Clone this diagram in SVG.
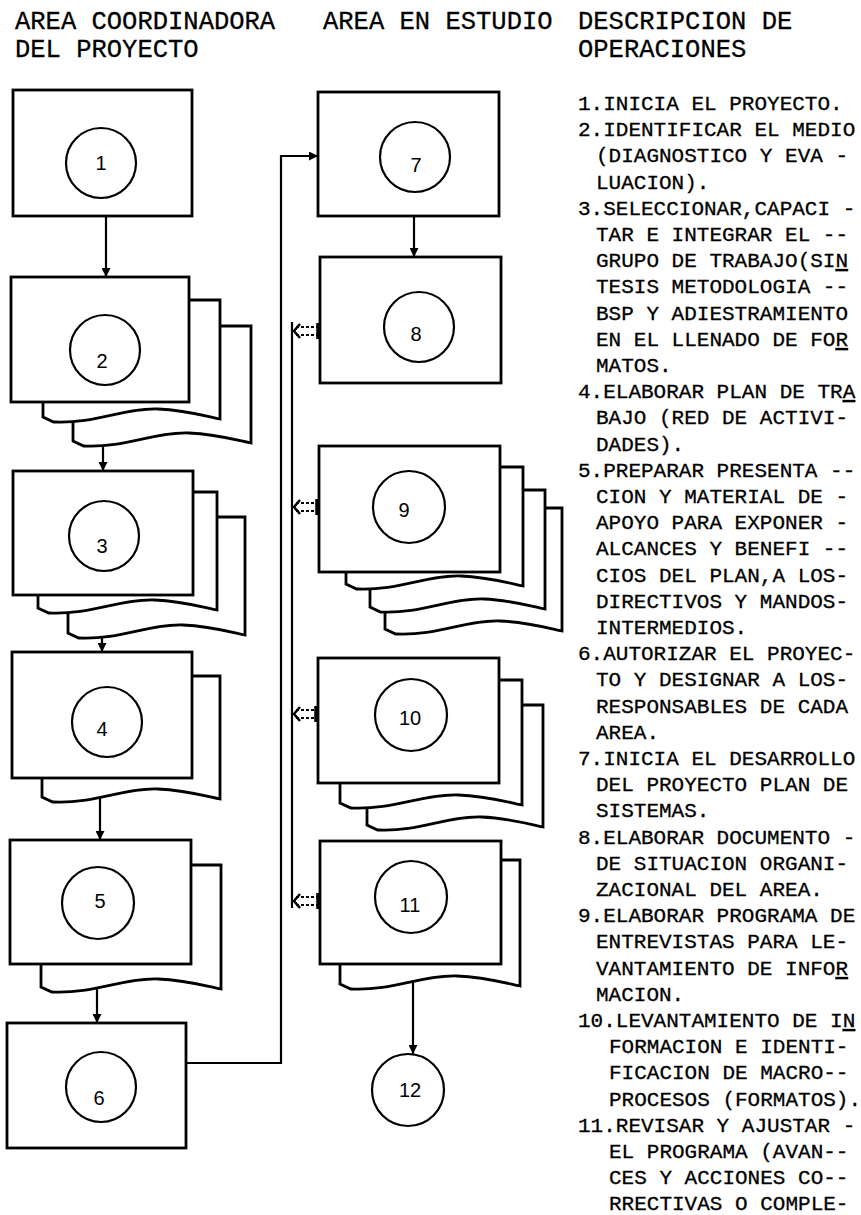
<svg xmlns="http://www.w3.org/2000/svg" width="861" height="1215" viewBox="0 0 861 1215">
<style>
.box{fill:#fff;stroke:#000;stroke-width:2.8;stroke-linejoin:miter}
.circ{fill:none;stroke:#000;stroke-width:2.2}
.num{font-family:"Liberation Sans","DejaVu Sans",sans-serif;font-size:20px;text-anchor:middle;fill:#000}
.conn{fill:none;stroke:#000;stroke-width:2.2}
.dash{fill:none;stroke:#000;stroke-width:2;stroke-dasharray:3 2}
.bar{stroke:#000;stroke-width:3.5}
.hdr{font-family:"Liberation Mono","DejaVu Sans Mono",monospace;font-size:25.5px;fill:#000;stroke:#000;stroke-width:0.3}
.desc{font-family:"Liberation Mono","DejaVu Sans Mono",monospace;font-size:21px;fill:#000;stroke:#000;stroke-width:0.3}
</style>
<defs>
<marker id="ah" viewBox="0 0 10 10" refX="10" refY="5" markerWidth="9" markerHeight="9" markerUnits="userSpaceOnUse" orient="auto"><path d="M0,0 L10,5 L0,10 z" fill="#000"/></marker>
</defs>

<g id="headers">
<text class="hdr" x="15" y="29">AREA COORDINADORA</text>
<text class="hdr" x="15" y="57">DEL PROYECTO</text>
<text class="hdr" x="323" y="29">AREA EN ESTUDIO</text>
<text class="hdr" x="578" y="29">DESCRIPCION DE</text>
<text class="hdr" x="578" y="57">OPERACIONES</text>
</g>

<g id="connectors">
<line class="conn" x1="106" y1="216" x2="106" y2="277" marker-end="url(#ah)"/>
<line class="conn" x1="103" y1="445" x2="103" y2="471" marker-end="url(#ah)"/>
<line class="conn" x1="102" y1="637" x2="102" y2="652" marker-end="url(#ah)"/>
<line class="conn" x1="100" y1="798" x2="100" y2="840" marker-end="url(#ah)"/>
<line class="conn" x1="97" y1="988" x2="97" y2="1023" marker-end="url(#ah)"/>
<polyline class="conn" points="186,1063 281,1063 281,156 318,156" marker-end="url(#ah)"/>
<line class="conn" x1="414" y1="216" x2="414" y2="257" marker-end="url(#ah)"/>
<line class="conn" x1="413" y1="981" x2="413" y2="1054" marker-end="url(#ah)"/>
<line class="conn" x1="292" y1="322" x2="292" y2="908"/>
<g id="link8">
<line class="dash" x1="296" y1="327" x2="317" y2="327"/><line class="dash" x1="296" y1="335" x2="317" y2="335"/>
<path d="M300,324 L294,331 L300,338" fill="none" stroke="#000" stroke-width="2.5"/>
<line class="bar" x1="318" y1="323" x2="318" y2="339"/>
</g>
<g id="link9">
<line class="dash" x1="296" y1="503" x2="317" y2="503"/><line class="dash" x1="296" y1="511" x2="317" y2="511"/>
<path d="M300,500 L294,507 L300,514" fill="none" stroke="#000" stroke-width="2.5"/>
<line class="bar" x1="317" y1="499" x2="317" y2="515"/>
</g>
<g id="link10">
<line class="dash" x1="296" y1="710" x2="316" y2="710"/><line class="dash" x1="296" y1="718" x2="316" y2="718"/>
<path d="M300,707 L294,714 L300,721" fill="none" stroke="#000" stroke-width="2.5"/>
<line class="bar" x1="316" y1="706" x2="316" y2="722"/>
</g>
<g id="link11">
<line class="dash" x1="296" y1="897" x2="318" y2="897"/><line class="dash" x1="296" y1="905" x2="318" y2="905"/>
<path d="M300,894 L294,901 L300,908" fill="none" stroke="#000" stroke-width="2.5"/>
<line class="bar" x1="318" y1="893" x2="318" y2="909"/>
</g>
</g>

<g id="node1">
<rect class="box" x="13" y="90" width="179" height="126"/>
<circle class="circ" cx="101" cy="163" r="35"/>
<text class="num" x="101" y="170">1</text>
</g>

<g id="node2">
<path class="box" d="M73,326 H251 V443 C236.8,440 215.4,434 188.7,433 C153.1,432 126.4,448 83.7,446 L73,441 Z"/>
<path class="box" d="M43,300 H220 V419 C205.8,416 184.6,410 158,409 C122.7,408 96.1,424 53.6,422 L43,417 Z"/>
<rect class="box" x="11" y="277" width="178" height="125"/>
<circle class="circ" cx="105" cy="350" r="35"/>
<text class="num" x="102" y="368">2</text>
</g>

<g id="node3">
<path class="box" d="M68,517 H245 V635 C230.8,632 209.6,626 183,625 C147.7,624 121.1,640 78.6,638 L68,633 Z"/>
<path class="box" d="M38,492 H217 V610 C202.7,607 181.2,601 154.4,600 C118.6,599 91.7,615 48.7,613 L38,608 Z"/>
<rect class="box" x="13" y="471" width="180" height="124"/>
<circle class="circ" cx="104" cy="536" r="35"/>
<text class="num" x="102" y="553">3</text>
</g>

<g id="node4">
<path class="box" d="M42,676 H220 V799 C205.8,796 184.4,790 157.7,789 C122.1,788 95.4,804 52.7,802 L42,797 Z"/>
<rect class="box" x="12" y="652" width="180" height="126"/>
<circle class="circ" cx="107" cy="722" r="35"/>
<text class="num" x="102" y="736">4</text>
</g>

<g id="node5">
<path class="box" d="M41,865 H221 V989 C206.6,986 185,980 158,979 C122,978 95,994 51.8,992 L41,987 Z"/>
<rect class="box" x="10" y="840" width="181" height="124"/>
<circle class="circ" cx="98" cy="903" r="36"/>
<text class="num" x="100" y="908">5</text>
</g>

<g id="node6">
<rect class="box" x="7" y="1023" width="179" height="125"/>
<circle class="circ" cx="101" cy="1087" r="35"/>
<text class="num" x="99" y="1105">6</text>
</g>

<g id="node7">
<rect class="box" x="318" y="92" width="181" height="124"/>
<circle class="circ" cx="415" cy="157" r="35"/>
<text class="num" x="416" y="172">7</text>
</g>

<g id="node8">
<rect class="box" x="320" y="257" width="181" height="126"/>
<circle class="circ" cx="419" cy="327" r="35"/>
<text class="num" x="416" y="341">8</text>
</g>

<g id="node9">
<path class="box" d="M385,508 H562 V631 C547.8,628 526.6,622 500,621 C464.7,620 438.1,636 395.6,634 L385,629 Z"/>
<path class="box" d="M370,490 H545 V609 C531,606 510,600 483.8,599 C448.8,598 422.5,614 380.5,612 L370,607 Z"/>
<path class="box" d="M346,467 H523 V586 C508.8,583 487.6,577 461,576 C425.7,575 399.1,591 356.6,589 L346,584 Z"/>
<rect class="box" x="319" y="446" width="181" height="126"/>
<circle class="circ" cx="409" cy="507" r="36"/>
<text class="num" x="404" y="517">9</text>
</g>

<g id="node10">
<path class="box" d="M367,705 H543 V827 C528.9,824 507.8,818 481.4,817 C446.2,816 419.8,832 377.6,830 L367,825 Z"/>
<path class="box" d="M340,680 H522 V805 C507.4,802 485.6,796 458.3,795 C421.9,794 394.6,810 350.9,808 L340,803 Z"/>
<rect class="box" x="318" y="658" width="181" height="125"/>
<circle class="circ" cx="411" cy="715" r="36"/>
<text class="num" x="410" y="725">10</text>
</g>

<g id="node11">
<path class="box" d="M340,860 H520 V986 C505.6,983 484,977 457,976 C421,975 394,991 350.8,989 L340,984 Z"/>
<rect class="box" x="320" y="841" width="181" height="123"/>
<circle class="circ" cx="411" cy="897" r="36"/>
<text class="num" x="410" y="912">11</text>
</g>

<g id="node12">
<circle class="circ" cx="408" cy="1090" r="36"/>
<text class="num" x="410" y="1097">12</text>
</g>

<g id="description" class="desc">
<text x="578" y="110">1.INICIA EL PROYECTO.</text>
<text x="578" y="136">2.IDENTIFICAR EL MEDIO</text>
<text x="596" y="162">(DIAGNOSTICO Y EVA -</text>
<text x="596" y="189">LUACION).</text>
<text x="578" y="215">3.SELECCIONAR,CAPACI -</text>
<text x="596" y="241">TAR E INTEGRAR EL --</text>
<text x="596" y="267">GRUPO DE TRABAJO(SI<tspan text-decoration="underline">N</tspan></text>
<text x="596" y="293">TESIS METODOLOGIA --</text>
<text x="596" y="320">BSP Y ADIESTRAMIENTO</text>
<text x="596" y="346">EN EL LLENADO DE FO<tspan text-decoration="underline">R</tspan></text>
<text x="596" y="372">MATOS.</text>
<text x="578" y="398">4.ELABORAR PLAN DE TR<tspan text-decoration="underline">A</tspan></text>
<text x="596" y="424">BAJO (RED DE ACTIVI-</text>
<text x="596" y="451">DADES).</text>
<text x="578" y="477">5.PREPARAR PRESENTA --</text>
<text x="596" y="503">CION Y MATERIAL DE -</text>
<text x="596" y="529">APOYO PARA EXPONER -</text>
<text x="596" y="555">ALCANCES Y BENEFI --</text>
<text x="596" y="582">CIOS DEL PLAN,A LOS-</text>
<text x="596" y="608">DIRECTIVOS Y MANDOS-</text>
<text x="596" y="634">INTERMEDIOS.</text>
<text x="578" y="660">6.AUTORIZAR EL PROYEC-</text>
<text x="596" y="686">TO Y DESIGNAR A LOS-</text>
<text x="596" y="713">RESPONSABLES DE CADA</text>
<text x="596" y="739">AREA.</text>
<text x="578" y="765">7.INICIA EL DESARROLLO</text>
<text x="596" y="791">DEL PROYECTO PLAN DE</text>
<text x="596" y="817">SISTEMAS.</text>
<text x="578" y="844">8.ELABORAR DOCUMENTO -</text>
<text x="596" y="870">DE SITUACION ORGANI-</text>
<text x="596" y="896">ZACIONAL DEL AREA.</text>
<text x="578" y="922">9.ELABORAR PROGRAMA DE</text>
<text x="596" y="948">ENTREVISTAS PARA LE-</text>
<text x="596" y="975">VANTAMIENTO DE INFO<tspan text-decoration="underline">R</tspan></text>
<text x="596" y="1001">MACION.</text>
<text x="578" y="1027">10.LEVANTAMIENTO DE I<tspan text-decoration="underline">N</tspan></text>
<text x="609" y="1053">FORMACION E IDENTI-</text>
<text x="609" y="1079">FICACION DE MACRO--</text>
<text x="609" y="1106">PROCESOS (FORMATOS).</text>
<text x="578" y="1132">11.REVISAR Y AJUSTAR -</text>
<text x="609" y="1158">EL PROGRAMA (AVAN--</text>
<text x="609" y="1184">CES Y ACCIONES CO--</text>
<text x="609" y="1210">RRECTIVAS O COMPLE-</text>
</g>
</svg>
